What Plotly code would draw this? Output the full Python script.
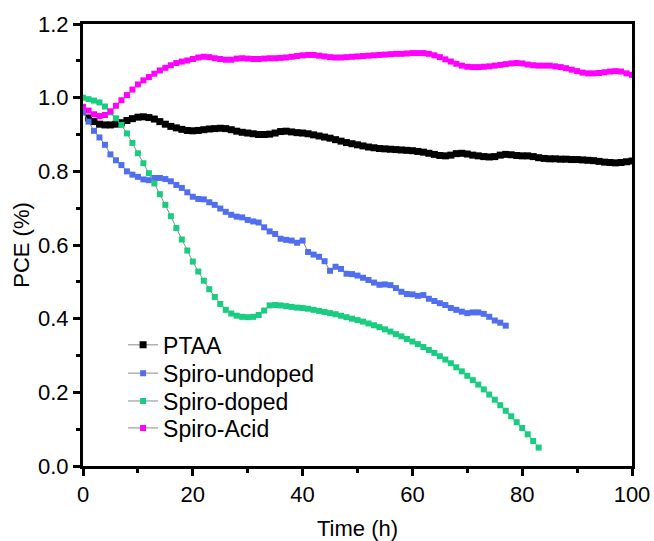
import plotly.graph_objects as go

# PCE vs time (1 h steps)
ptaa_t = list(range(1, 101))
ptaa = [0.945, 0.935, 0.928, 0.926, 0.926, 0.928, 0.932, 0.938, 0.943, 0.947,
        0.948, 0.946, 0.942, 0.935, 0.928, 0.922, 0.918, 0.914, 0.911, 0.910,
        0.911, 0.913, 0.915, 0.916, 0.917, 0.916, 0.913, 0.909, 0.906, 0.904,
        0.902, 0.900, 0.900, 0.901, 0.904, 0.908, 0.909, 0.907, 0.905, 0.904,
        0.902, 0.899, 0.896, 0.893, 0.890, 0.886, 0.882, 0.878, 0.875, 0.872,
        0.869, 0.866, 0.864, 0.862, 0.861, 0.860, 0.859, 0.858, 0.857, 0.856,
        0.854, 0.852, 0.849, 0.846, 0.843, 0.842, 0.844, 0.848, 0.849, 0.847,
        0.844, 0.842, 0.840, 0.839, 0.840, 0.844, 0.846, 0.845, 0.843, 0.842,
        0.842, 0.840, 0.837, 0.835, 0.834, 0.834, 0.833, 0.833, 0.832, 0.832,
        0.831, 0.830, 0.829, 0.827, 0.825, 0.824, 0.823, 0.824, 0.826, 0.828]

undoped_t = list(range(0, 78))
undoped = [0.960, 0.935, 0.910, 0.892, 0.872, 0.846, 0.830, 0.817, 0.800, 0.791,
           0.785, 0.778, 0.776, 0.782, 0.782, 0.779, 0.773, 0.763, 0.755, 0.743,
           0.731, 0.725, 0.724, 0.716, 0.709, 0.699, 0.690, 0.682, 0.677, 0.675,
           0.668, 0.664, 0.661, 0.648, 0.637, 0.630, 0.617, 0.614, 0.612, 0.606,
           0.612, 0.581, 0.574, 0.568, 0.556, 0.530, 0.541, 0.535, 0.522, 0.521,
           0.517, 0.511, 0.505, 0.498, 0.492, 0.493, 0.491, 0.483, 0.473, 0.467,
           0.466, 0.462, 0.464, 0.454, 0.448, 0.442, 0.437, 0.429, 0.424, 0.419,
           0.415, 0.417, 0.417, 0.413, 0.405, 0.395, 0.389, 0.381]

doped_t = list(range(0, 84))
doped = [1.000, 0.996, 0.992, 0.987, 0.976, 0.960, 0.944, 0.926, 0.903, 0.877,
         0.849, 0.822, 0.795, 0.767, 0.738, 0.709, 0.678, 0.646, 0.615, 0.585,
         0.555, 0.528, 0.503, 0.480, 0.459, 0.440, 0.424, 0.414, 0.408, 0.405,
         0.404, 0.405, 0.410, 0.422, 0.436, 0.437, 0.436, 0.434, 0.432, 0.430,
         0.429, 0.427, 0.424, 0.421, 0.418, 0.415, 0.412, 0.408, 0.404, 0.400,
         0.396, 0.392, 0.387, 0.382, 0.377, 0.371, 0.365, 0.358, 0.352, 0.345,
         0.338, 0.331, 0.323, 0.315, 0.307, 0.298, 0.289, 0.279, 0.268, 0.257,
         0.245, 0.233, 0.221, 0.208, 0.194, 0.180, 0.165, 0.150, 0.135, 0.119,
         0.103, 0.086, 0.068, 0.050]

acid_t = list(range(0, 101))
acid = [0.975, 0.965, 0.955, 0.950, 0.953, 0.963, 0.978, 0.993, 1.007, 1.022,
        1.036, 1.047, 1.056, 1.065, 1.074, 1.081, 1.088, 1.094, 1.098, 1.101,
        1.105, 1.109, 1.111, 1.110, 1.107, 1.105, 1.103, 1.103, 1.106, 1.107,
        1.106, 1.105, 1.105, 1.106, 1.107, 1.107, 1.108, 1.109, 1.111, 1.113,
        1.115, 1.116, 1.116, 1.114, 1.112, 1.110, 1.109, 1.109, 1.110, 1.111,
        1.112, 1.113, 1.114, 1.115, 1.116, 1.117, 1.118, 1.119, 1.119, 1.120,
        1.121, 1.121, 1.121, 1.119, 1.115, 1.110, 1.104, 1.098, 1.092, 1.087,
        1.084, 1.083, 1.083, 1.084, 1.085, 1.087, 1.089, 1.091, 1.093, 1.094,
        1.093, 1.090, 1.088, 1.087, 1.087, 1.087, 1.085, 1.083, 1.080, 1.076,
        1.072, 1.068, 1.066, 1.066, 1.067, 1.069, 1.071, 1.072, 1.071, 1.066,
        1.062]

series = [
    ('PTAA', ptaa_t, ptaa, '#000000', 7),
    ('Spiro-undoped', undoped_t, undoped, '#4F6EF0', 6),
    ('Spiro-doped', doped_t, doped, '#18CC80', 6),
    ('Spiro-Acid', acid_t, acid, '#FF00FF', 6),
]

# one legend per entry so the rows can sit as tightly as in the original
legend_ids = ['legend', 'legend2', 'legend3', 'legend4']
legend_y = [0.274, 0.210, 0.147, 0.086]

fig = go.Figure()
for (name, t, v, color, size), lg in zip(series, legend_ids):
    fig.add_trace(go.Scatter(
        x=t, y=v, name=name, mode='lines+markers', legend=lg, showlegend=True,
        line=dict(color='#8a8a8a', width=1),
        marker=dict(symbol='square', size=size, color=color, line=dict(width=0))
    ))

axis_style = dict(
    showline=True, linecolor='black', linewidth=3, mirror=True,
    ticks='outside', ticklen=7, tickwidth=2.5, tickcolor='black',
    showgrid=False, zeroline=False, automargin=False,
    tickfont=dict(size=22, color='black'),
)

legend_layout = {}
for lg, ly in zip(legend_ids, legend_y):
    legend_layout[lg] = dict(x=0.073, y=ly, xanchor='left', yanchor='middle',
                             bgcolor='rgba(0,0,0,0)', font=dict(size=23),
                             tracegroupgap=0)

fig.update_layout(
    width=654, height=541,
    showlegend=True,
    margin=dict(l=83, r=22, t=24, b=75),
    plot_bgcolor='white', paper_bgcolor='white',
    font=dict(family='Arial, Liberation Sans, sans-serif', size=22, color='black'),
    xaxis=dict(range=[0, 100], tick0=0, dtick=20,
               minor=dict(ticks='outside', ticklen=4, tickwidth=2.5, dtick=10, tickcolor='black'),
               title=dict(text='Time (h)', font=dict(size=22), standoff=17),
               **axis_style),
    yaxis=dict(range=[0, 1.2], tick0=0, dtick=0.2, tickformat='.1f',
               minor=dict(ticks='outside', ticklen=4, tickwidth=2.5, dtick=0.1, tickcolor='black'),
               title=dict(text='PCE (%)', font=dict(size=22), standoff=3),
               **axis_style),
    **legend_layout,
)

# drop the default page margin so the 654x541 figure fills the window exactly
fig.write_html("out.html", config={'displayModeBar': False},
               post_script="document.body.style.margin='0';")
